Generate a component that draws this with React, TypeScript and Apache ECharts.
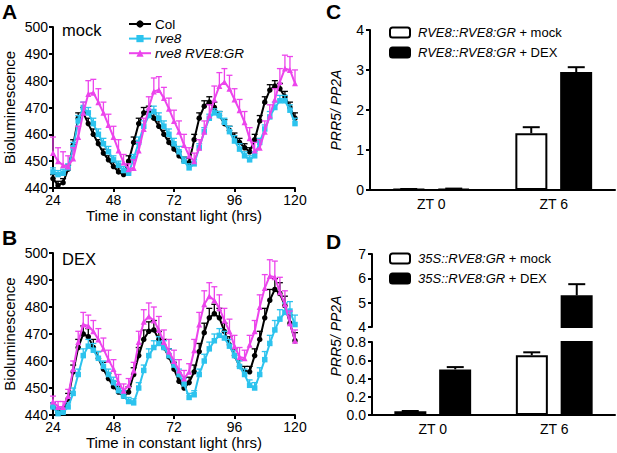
import React, { useEffect, useRef } from "react";
import * as echarts from "echarts";

const FONT = "'Liberation Sans', Arial, Helvetica, sans-serif";

// time points (hours in constant light)
const hours = [
  24, 26, 28, 30, 32, 34, 36, 38, 40, 42,
  44, 46, 48, 50, 52, 54, 56, 58, 60, 62,
  64, 66, 68, 70, 72, 74, 76, 78, 80, 82,
  84, 86, 88, 90, 92, 94, 96, 98, 100, 102,
  104, 106, 108, 110, 112, 114, 116, 118, 120,
];

// Panel A (mock)
const colMock = [
  443.5, 441, 442, 447, 456, 466, 468, 464, 460, 456.5,
  453, 450.5, 448, 446, 445, 450, 457, 464, 468, 468.5,
  466, 463, 460, 457, 454.5, 452, 450, 449.5, 458, 466,
  470.5, 472, 470, 467, 464, 461.5, 459, 457, 455, 453.5,
  458, 465, 472, 476.5, 478, 477, 474, 470, 466,
];
const colMockErr = [
  1.5, 1.5, 1.5, 1.5, 2, 2, 2, 2, 2, 1.5,
  1.5, 1.5, 1.5, 1.5, 1.5, 2, 2, 2, 2, 2,
  2, 2, 1.5, 1.5, 1.5, 1.5, 1.5, 1.5, 2, 2,
  2, 2, 2, 1.5, 1.5, 1.5, 1.5, 1.5, 1.5, 1.5,
  2, 2, 2, 2, 2, 2, 2, 2, 2,
];
const rve8Mock = [
  446, 445, 445.5, 447.5, 455, 465, 470, 468, 464, 460,
  456.5, 453.5, 450.5, 448.5, 446.5, 445.5, 451, 457, 463, 467,
  468.5, 466, 463, 460, 456.5, 453.5, 450, 447.5, 449, 455,
  461, 466, 468, 467, 464.5, 461, 457.5, 454.5, 452, 450.5,
  452, 457, 462, 466.5, 470, 472.5, 472.5, 469, 464,
];
const rve8MockErr = [
  1.5, 1.5, 1.5, 1.5, 2, 2, 2, 2, 2, 2,
  2, 2, 1.5, 1.5, 1.5, 1.5, 1.5, 2, 2, 2,
  2, 2, 2, 2, 2, 2, 1.5, 1.5, 1.5, 1.5,
  1.5, 1.5, 1.5, 1.5, 1.5, 2, 2, 2, 1.5, 1.5,
  1.5, 1.5, 1.5, 2, 2, 2, 2, 2, 2,
];
const grMock = [
  453, 450, 448.5, 448, 451, 459, 468, 475, 475.5, 472,
  468, 463.5, 459, 454, 449.5, 447, 447.5, 454, 462, 470,
  476, 476.5, 473.5, 469.5, 465, 461, 456, 452, 450, 455,
  461, 467, 473, 478, 479.5, 477, 473, 469, 464.5, 458.5,
  454, 455, 461, 467, 473, 479.5, 484.5, 484, 479,
];
const grMockErr = [
  6, 5, 5, 4, 4, 4, 4, 5, 5, 5,
  4, 4, 4, 4, 3, 2, 3, 3, 4, 4,
  5, 5, 4, 4, 4, 4, 4, 3, 3, 3,
  4, 4, 5, 5, 5, 5, 4, 4, 4, 4,
  3, 3, 4, 4, 4, 5, 5, 5, 5,
];

// Panel B (DEX)
const colDex = [
  443, 441, 441.5, 446, 456, 465, 470, 469, 465, 461,
  457, 453.5, 450.5, 448.5, 447, 448.5, 455, 462, 468, 471,
  471.5, 468, 465, 461.5, 457, 452.5, 450, 452, 456, 463.5,
  470.5, 476, 477.5, 476, 471, 466, 462, 458, 456, 456,
  462, 468, 476, 482.5, 486.5, 485, 480.5, 474, 467.5,
];
const colDexErr = [
  1.5, 1.5, 1.5, 2, 2.5, 3, 3, 3, 3, 2.5,
  2.5, 2, 2, 2, 2, 2, 2.5, 3, 3.5, 3.5,
  3.5, 3, 3, 3, 2.5, 2.5, 2, 2, 2.5, 3,
  3.5, 3.5, 3.5, 3.5, 3, 3, 2.5, 2.5, 2, 2,
  2.5, 3, 3.5, 4, 4, 4, 3.5, 3, 3,
];
const rve8Dex = [
  443, 440.5, 441, 443, 448, 455, 462, 465.5, 464, 461,
  458, 455, 452, 449, 447, 445, 444.5, 450, 456.5, 462,
  465, 466.5, 465, 462, 458.5, 455, 451.5, 446.5, 447.5, 455,
  460, 464.5, 467.5, 469.5, 468.5, 465.5, 462, 458, 455, 451,
  450, 455, 460.5, 466.5, 471.5, 475.5, 478, 478.5, 473.5,
];
const rve8DexErr = [
  1.5, 1.5, 1.5, 1.5, 2, 2, 2.5, 2.5, 2.5, 2.5,
  2, 2, 2, 2, 2, 1.5, 1.5, 2, 2, 2.5,
  2.5, 2.5, 2.5, 2.5, 2, 2, 2, 1.5, 1.5, 2,
  2.5, 2.5, 2.5, 2.5, 2.5, 2.5, 2, 2, 2, 2,
  2, 2.5, 3, 3, 3.5, 3.5, 3.5, 3.5, 3.5,
];
const grDex = [
  445, 443, 443, 447, 457, 467, 473.5, 473, 471, 468,
  464.5, 460.5, 457, 452, 449, 451, 456.5, 467, 474.5, 476.5,
  475, 471.5, 467, 463.5, 460, 456.5, 453.5, 456, 464, 473.5,
  481, 484, 482.5, 479.5, 475, 471, 465.5, 461.5, 461, 466,
  471, 480, 487, 491.5, 491, 485.5, 481, 474, 467.5,
];
const grDexErr = [
  2, 2, 2, 2.5, 3, 4, 4.5, 4, 4, 4,
  4, 3.5, 3.5, 3, 2.5, 2.5, 3, 4, 4.5, 5,
  5, 5, 4.5, 4.5, 4, 4, 3, 3, 4, 4.5,
  5, 5, 5, 5, 4.5, 4.5, 4, 3.5, 3, 3.5,
  4, 4.5, 5, 6, 6, 5.5, 5, 4.5, 4,
];

const lineNames = ["Col", "rve8", "rve8 RVE8:GR"];
const lineColors = ["#000000", "#2CC3EE", "#EC44EC"];
const lineSymbols = ["circle", "rect", "triangle"];

// Panels C and D
const ztCats = ["ZT 0", "ZT 6"];
const cNames = ["RVE8::RVE8:GR + mock", "RVE8::RVE8:GR + DEX"];
const cMock = [0.02, 1.42];
const cMockErr = [0.005, 0.15];
const cDex = [0.03, 2.95];
const cDexErr = [0.005, 0.12];
const dNames = ["35S::RVE8:GR + mock", "35S::RVE8:GR + DEX"];
const dMock = [0.04, 0.655];
const dMockErr = [0.004, 0.032];
const dDex = [0.5, 5.3];
const dDexErr = [0.025, 0.46];

const axisLineStyle = { show: true, lineStyle: { color: "#000", width: 2 } };
const axisTickStyle = { show: true, inside: false, length: 4, lineStyle: { color: "#000", width: 2 } };
const labelStyle = { color: "#000", fontSize: 14, fontFamily: FONT };

function lineErrRender(color: string) {
  return (params: any, api: any) => {
    const x = api.value(0);
    const y = api.value(1);
    const e = api.value(2);
    const p0 = api.coord([x, y]);
    const p1 = api.coord([x, y + e]);
    return {
      type: "group",
      children: [
        { type: "line", shape: { x1: p0[0], y1: p0[1], x2: p1[0], y2: p1[1] }, style: { stroke: color, lineWidth: 1.3 } },
        { type: "line", shape: { x1: p1[0] - 3, y1: p1[1], x2: p1[0] + 3, y2: p1[1] }, style: { stroke: color, lineWidth: 1.3 } },
      ],
    };
  };
}

function barErrRender(offset: number) {
  return (params: any, api: any) => {
    const c = api.value(0);
    const v = api.value(1);
    const e = api.value(2);
    const p0 = api.coord([c, v]);
    const p1 = api.coord([c, v + e]);
    const x = p0[0] + offset;
    return {
      type: "group",
      children: [
        { type: "line", shape: { x1: x, y1: p0[1], x2: x, y2: p1[1] }, style: { stroke: "#000", lineWidth: 2 } },
        { type: "line", shape: { x1: x - 8.5, y1: p1[1], x2: x + 8.5, y2: p1[1] }, style: { stroke: "#000", lineWidth: 2 } },
      ],
    };
  };
}

function buildLineSeries(gridIdx: number, sets: number[][], errs: number[][]) {
  const out: any[] = [];
  sets.forEach((vals, k) => {
    out.push({
      type: "line",
      name: lineNames[k],
      xAxisIndex: gridIdx,
      yAxisIndex: gridIdx,
      data: hours.map((h, i) => [h, vals[i]]),
      symbol: lineSymbols[k],
      symbolSize: k === 2 ? 6 : 5.5,
      showSymbol: true,
      lineStyle: { color: lineColors[k], width: 2 },
      itemStyle: { color: lineColors[k] },
      z: 3 + k,
    });
    out.push({
      type: "custom",
      name: lineNames[k] + " SEM " + gridIdx,
      xAxisIndex: gridIdx,
      yAxisIndex: gridIdx,
      data: hours.map((h, i) => [h, vals[i], errs[k][i]]),
      encode: { x: 0, y: 1 },
      renderItem: lineErrRender(lineColors[k]),
      silent: true,
      z: 3 + k,
    });
  });
  return out;
}

function barSeries(gridIdx: number, name: string, vals: number[], dark: boolean) {
  return {
    type: "bar",
    name,
    xAxisIndex: gridIdx,
    yAxisIndex: gridIdx,
    data: vals,
    barWidth: 32,
    barGap: "40%",
    clip: true,
    itemStyle: { color: dark ? "#000" : "#fff", borderColor: "#000", borderWidth: 2 },
    z: 2,
  };
}

function barErrSeries(gridIdx: number, vals: number[], errs: number[], offset: number, lo: number, hi: number) {
  const data: any[] = [];
  vals.forEach((v, i) => {
    if (v >= lo && v + errs[i] <= hi) data.push([ztCats[i], v, errs[i]]);
  });
  return {
    type: "custom",
    name: "err" + gridIdx + "_" + offset,
    xAxisIndex: gridIdx,
    yAxisIndex: gridIdx,
    data,
    encode: { x: 0, y: 1 },
    renderItem: barErrRender(offset),
    silent: true,
    z: 3,
  };
}

const richFmt = (name: string) => {
  const parts = name.split(" + ");
  return `{i|${parts[0]}} + ${parts[1]}`;
};

export default function App() {
  const ref = useRef<HTMLDivElement>(null);
  useEffect(() => {
    if (!ref.current) return;
    const chart = echarts.init(ref.current, undefined, { renderer: "svg" });

    const timeX = (idx: number) => ({
      type: "value",
      gridIndex: idx,
      min: 24,
      max: 120,
      interval: 24,
      name: "Time in constant light (hrs)",
      nameLocation: "middle",
      nameGap: 18,
      nameTextStyle: { color: "#000", fontSize: 15, fontFamily: FONT },
      axisLine: axisLineStyle,
      axisTick: axisTickStyle,
      axisLabel: { ...labelStyle, margin: 5 },
      splitLine: { show: false },
    });
    const lumY = (idx: number) => ({
      type: "value",
      gridIndex: idx,
      min: 440,
      max: 500,
      interval: 10,
      name: "Bioluminescence",
      nameLocation: "middle",
      nameGap: 36,
      nameTextStyle: { color: "#000", fontSize: 15, fontFamily: FONT },
      axisLine: axisLineStyle,
      axisTick: axisTickStyle,
      axisLabel: { ...labelStyle, margin: 5 },
      splitLine: { show: false },
    });
    const catX = (idx: number, show: boolean) => ({
      type: "category",
      gridIndex: idx,
      data: ztCats,
      show,
      axisLine: axisLineStyle,
      axisTick: { show: false },
      axisLabel: { ...labelStyle, margin: 7 },
    });

    const legendBase = {
      orient: "horizontal",
      padding: 0,
      selectedMode: false,
      itemGap: 0,
    };

    const option: any = {
      animation: false,
      textStyle: { fontFamily: FONT },
      grid: [
        { left: 53, top: 27, width: 242, height: 161 },
        { left: 53, top: 253, width: 242, height: 162 },
        { left: 370, top: 30, width: 245, height: 160 },
        { left: 372, top: 254, width: 243, height: 73 },
        { left: 372, top: 342, width: 243, height: 73 },
      ],
      xAxis: [timeX(0), timeX(1), catX(2, true), catX(3, false), catX(4, true)],
      yAxis: [
        lumY(0),
        lumY(1),
        {
          type: "value",
          gridIndex: 2,
          min: 0,
          max: 4,
          interval: 1,
          name: "PRR5/ PP2A",
          nameLocation: "middle",
          nameGap: 27,
          nameTextStyle: { color: "#000", fontSize: 14, fontFamily: FONT, fontStyle: "italic" },
          axisLine: axisLineStyle,
          axisTick: axisTickStyle,
          axisLabel: { ...labelStyle, margin: 6 },
          splitLine: { show: false },
        },
        {
          type: "value",
          gridIndex: 3,
          min: 4,
          max: 7,
          interval: 1,
          axisLine: axisLineStyle,
          axisTick: axisTickStyle,
          axisLabel: { ...labelStyle, margin: 6 },
          splitLine: { show: false },
        },
        {
          type: "value",
          gridIndex: 4,
          min: 0,
          max: 0.8,
          interval: 0.2,
          axisLine: axisLineStyle,
          axisTick: axisTickStyle,
          axisLabel: { ...labelStyle, margin: 6, formatter: (v: number) => v.toFixed(1) },
          splitLine: { show: false },
        },
      ],
      legend: [
        ...lineNames.map((n, k) => ({
          ...legendBase,
          data: [n],
          left: 128,
          top: 17 + k * 14.6,
          itemWidth: 22,
          itemHeight: 9,
          textStyle: { color: "#000", fontSize: 13.5, fontFamily: FONT, fontStyle: k === 0 ? "normal" : "italic", padding: [0, 0, 0, -1] },
        })),
        ...cNames.map((n, k) => ({
          ...legendBase,
          data: [n],
          left: 389,
          top: 26 + k * 20,
          itemWidth: 20,
          itemHeight: 10,
          formatter: richFmt,
          textStyle: { color: "#000", fontSize: 13, fontFamily: FONT, padding: [0, 0, 0, 3], rich: { i: { fontStyle: "italic", fontSize: 13, fontFamily: FONT, color: "#000" } } },
        })),
        ...dNames.map((n, k) => ({
          ...legendBase,
          data: [n],
          left: 389,
          top: 252 + k * 20,
          itemWidth: 20,
          itemHeight: 10,
          formatter: richFmt,
          textStyle: { color: "#000", fontSize: 13, fontFamily: FONT, padding: [0, 0, 0, 3], rich: { i: { fontStyle: "italic", fontSize: 13, fontFamily: FONT, color: "#000" } } },
        })),
      ],
      graphic: [
        { type: "text", left: 2, top: 1, style: { text: "A", fontSize: 21, fontWeight: "bold", fontFamily: FONT, fill: "#000" } },
        { type: "text", left: 2, top: 227, style: { text: "B", fontSize: 21, fontWeight: "bold", fontFamily: FONT, fill: "#000" } },
        { type: "text", left: 326, top: 1, style: { text: "C", fontSize: 21, fontWeight: "bold", fontFamily: FONT, fill: "#000" } },
        { type: "text", left: 326, top: 231, style: { text: "D", fontSize: 21, fontWeight: "bold", fontFamily: FONT, fill: "#000" } },
        { type: "text", left: 62, top: 21, style: { text: "mock", fontSize: 16.5, fontFamily: FONT, fill: "#000" } },
        { type: "text", left: 62, top: 250, style: { text: "DEX", fontSize: 16.5, fontFamily: FONT, fill: "#000" } },
        {
          type: "text",
          x: 336,
          y: 336,
          rotation: Math.PI / 2,
          style: { text: "PRR5/ PP2A", fontSize: 14, fontStyle: "italic", fontFamily: FONT, fill: "#000", align: "center", verticalAlign: "middle" },
        },
      ],
      series: [
        ...buildLineSeries(0, [colMock, rve8Mock, grMock], [colMockErr, rve8MockErr, grMockErr]),
        ...buildLineSeries(1, [colDex, rve8Dex, grDex], [colDexErr, rve8DexErr, grDexErr]),
        barSeries(2, cNames[0], cMock, false),
        barSeries(2, cNames[1], cDex, true),
        barErrSeries(2, cMock, cMockErr, -22.5, 0, 4),
        barErrSeries(2, cDex, cDexErr, 22.5, 0, 4),
        barSeries(3, dNames[0], dMock, false),
        barSeries(3, dNames[1], dDex, true),
        barErrSeries(3, dDex, dDexErr, 22.5, 4, 7),
        barSeries(4, dNames[0], dMock, false),
        barSeries(4, dNames[1], dDex, true),
        barErrSeries(4, dMock, dMockErr, -22.5, 0, 0.8),
        barErrSeries(4, dDex, dDexErr, 22.5, 0, 0.8),
      ],
    };
    chart.setOption(option);
    return () => chart.dispose();
  }, []);
  return (
    <div
      ref={ref}
      style={{ position: "fixed", left: 0, top: 0, width: 617, height: 453, background: "#fff" }}
    />
  );
}
